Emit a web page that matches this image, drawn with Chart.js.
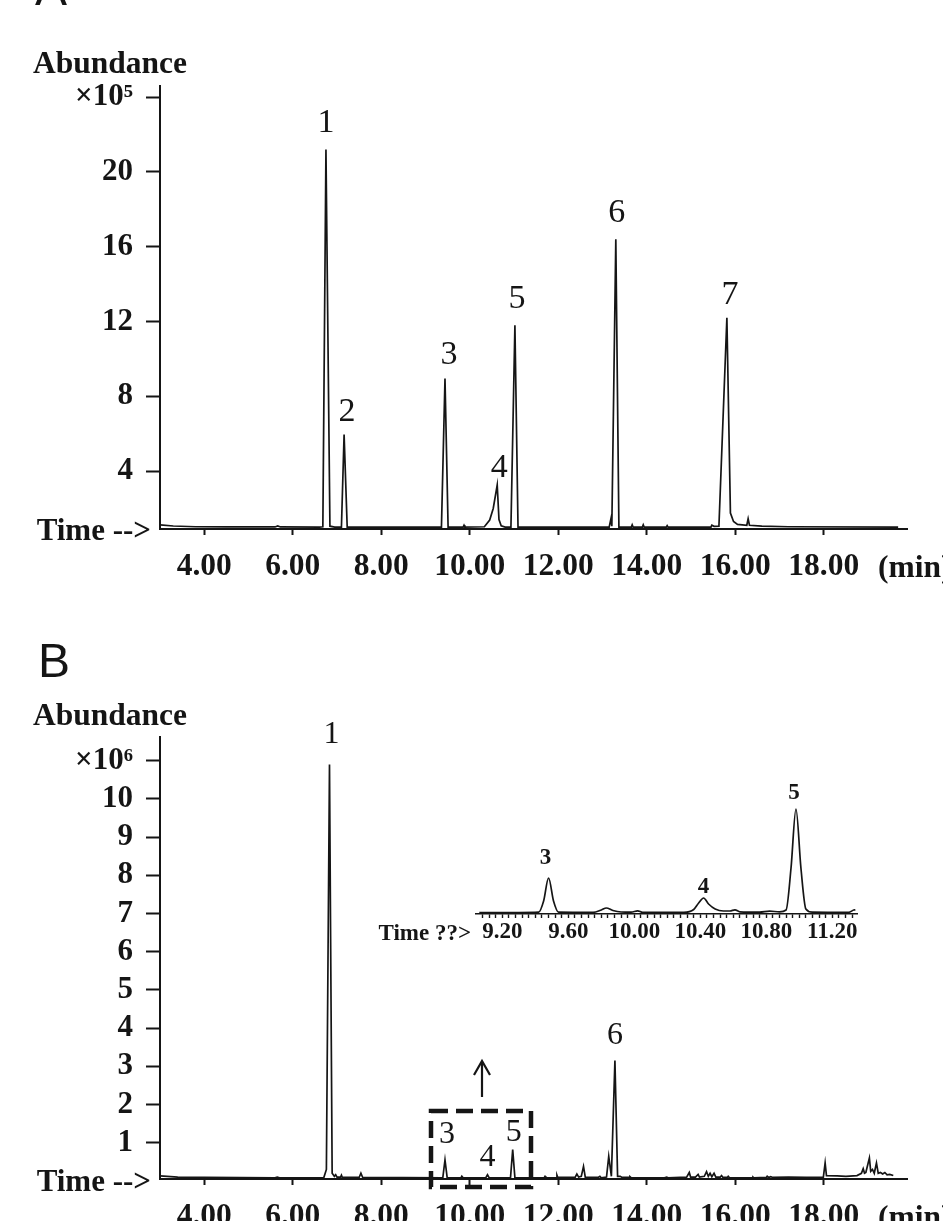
<!DOCTYPE html>
<html>
<head>
<meta charset="utf-8">
<title>GC-MS chromatograms</title>
<script src="https://cdn.jsdelivr.net/npm/chart.js@4.4.1/dist/chart.umd.min.js"></script>
<style>
  html, body { margin: 0; padding: 0; background: #fff; }
  #wrap { position: relative; width: 943px; height: 1221px; overflow: hidden; background: #fff; }
  canvas { position: absolute; }
</style>
</head>
<body>
<div id="wrap">
  <canvas id="chartA" width="943" height="610" style="left:0;top:0;width:943px;height:610px"></canvas>
  <canvas id="chartB" width="943" height="611" style="left:0;top:610px;width:943px;height:611px"></canvas>
  <canvas id="chartInset" width="520" height="180" style="left:370px;top:770px;width:520px;height:180px"></canvas>
</div>
<script>
// Shared time axis (min)
const timeTickValues = [4, 6, 8, 10, 12, 14, 16, 18];
const timeTickLabels = ['4.00', '6.00', '8.00', '10.00', '12.00', '14.00', '16.00', '18.00'];

// Panel A trace (abundance x10^5)
const timeA = [3.00, 3.30, 3.80, 4.50, 5.60, 5.66, 5.72, 6.60, 6.68, 6.75, 6.84, 6.95,
  7.10, 7.16, 7.23, 9.36, 9.44, 9.51, 9.85, 9.87, 9.89, 10.33, 10.45, 10.53, 10.62, 10.66,
  10.71, 10.80, 10.93, 11.02, 11.09, 13.15, 13.19, 13.21, 13.30, 13.37, 13.65, 13.67, 13.69,
  13.90, 13.92, 13.94, 14.44, 14.46, 14.48, 15.45, 15.47, 15.52, 15.63, 15.81, 15.89, 15.96,
  16.05, 16.26, 16.29, 16.32, 16.60, 17.20, 19.68];
const abundA = [1.12, 1.06, 1.02, 1.01, 1.01, 1.06, 1.01, 1.00, 1.02, 21.2, 1.05, 1.00,
  1.00, 5.95, 1.00, 1.00, 8.95, 1.00, 1.00, 1.10, 1.00, 1.02, 1.38, 2.00, 3.25, 1.40,
  1.07, 1.00, 1.00, 11.8, 1.00, 1.00, 1.45, 1.05, 16.4, 1.00, 1.00, 1.12, 1.00,
  1.00, 1.12, 1.00, 1.00, 1.08, 1.00, 1.00, 1.10, 1.04, 1.05, 12.2, 1.75, 1.30,
  1.15, 1.10, 1.45, 1.10, 1.05, 1.02, 1.00];
const yTickValuesA = [4, 8, 12, 16, 20, 24];
const yTickLabelsA = ['4', '8', '12', '16', '20', '×10⁵'];
const peakIdsA = ['1', '2', '3', '4', '5', '6', '7'];
const peakTimesA = [6.75, 7.16, 9.44, 10.62, 11.02, 13.30, 15.81];
const peakTopsA = [21.2, 5.95, 8.95, 3.25, 11.8, 16.4, 12.2];

// Panel B trace (abundance x10^6)
const timeB = [3.00, 3.40, 4.00, 5.60, 5.65, 5.70, 6.70, 6.76, 6.83, 6.89, 6.94, 6.97,
  7.00, 7.08, 7.10, 7.12, 7.50, 7.54, 7.58, 9.39, 9.44, 9.49, 9.80, 9.82, 9.85, 10.36,
  10.40, 10.44, 10.92, 10.97, 11.02, 11.68, 11.70, 11.72, 11.95, 11.97, 11.99, 12.38, 12.42,
  12.46, 12.52, 12.57, 12.61, 12.90, 12.94, 12.97, 13.09, 13.14, 13.20, 13.28, 13.34, 13.40,
  13.44, 13.60, 13.62, 13.65, 14.40, 14.45, 14.48, 14.90, 14.96, 14.99, 15.10, 15.16, 15.19,
  15.30, 15.35, 15.39, 15.43, 15.47, 15.52, 15.56, 15.66, 15.69, 15.72, 15.82, 15.84, 15.87,
  16.38, 16.40, 16.42, 16.70, 16.72, 16.75, 16.80, 16.85, 17.20, 17.60, 17.99, 18.03, 18.06,
  18.30, 18.50, 18.75, 18.85, 18.89, 18.92, 18.95, 19.03, 19.06, 19.10, 19.14, 19.19, 19.23,
  19.28, 19.33, 19.38, 19.43, 19.49, 19.57];
const abundB = [0.13, 0.10, 0.09, 0.08, 0.10, 0.08, 0.08, 0.30, 10.9, 0.20, 0.12, 0.16,
  0.10, 0.10, 0.15, 0.09, 0.09, 0.20, 0.09, 0.08, 0.55, 0.08, 0.08, 0.12, 0.08, 0.08,
  0.16, 0.08, 0.08, 0.82, 0.08, 0.08, 0.12, 0.08, 0.08, 0.15, 0.09, 0.09, 0.18,
  0.10, 0.12, 0.38, 0.10, 0.09, 0.12, 0.08, 0.10, 0.64, 0.12, 3.15, 0.12, 0.12,
  0.09, 0.09, 0.11, 0.08, 0.08, 0.10, 0.08, 0.10, 0.22, 0.10, 0.10, 0.17, 0.10,
  0.12, 0.24, 0.12, 0.20, 0.11, 0.20, 0.10, 0.10, 0.14, 0.09, 0.09, 0.12, 0.08,
  0.08, 0.10, 0.08, 0.09, 0.12, 0.09, 0.11, 0.09, 0.10, 0.09, 0.10, 0.47, 0.14,
  0.13, 0.12, 0.14, 0.20, 0.32, 0.20, 0.22, 0.60, 0.25, 0.30, 0.20, 0.47, 0.20,
  0.22, 0.18, 0.22, 0.16, 0.17, 0.14];
const yTickValuesB = [1, 2, 3, 4, 5, 6, 7, 8, 9, 10, 11];
const yTickLabelsB = ['1', '2', '3', '4', '5', '6', '7', '8', '9', '10', '×10⁶'];
const peakIdsB = ['1', '3', '4', '5', '6'];
const peakTimesB = [6.83, 9.44, 10.40, 10.97, 13.28];
const peakTopsB = [10.9, 0.55, 0.16, 0.82, 3.15];

// Inset of panel B, 9.0 - 11.4 min (relative abundance)
const timeInset = [9.06, 9.30, 9.42, 9.45, 9.48, 9.51, 9.54, 9.75, 9.80, 9.83, 9.87, 9.92,
  9.98, 10.02, 10.05, 10.30, 10.36, 10.39, 10.42, 10.45, 10.49, 10.54, 10.58, 10.61, 10.64,
  10.76, 10.82, 10.88, 10.92, 10.95, 10.98, 11.01, 11.04, 11.08, 11.30, 11.33, 11.34];
const abundInset = [0.05, 0.05, 0.08, 1.2, 3.5, 1.2, 0.08, 0.06, 0.30, 0.50, 0.25, 0.10,
  0.08, 0.22, 0.06, 0.06, 0.35, 1.00, 1.50, 0.90, 0.40, 0.20, 0.20, 0.32, 0.12,
  0.08, 0.18, 0.12, 0.30, 4.5, 10.4, 4.5, 0.40, 0.08, 0.06, 0.30, 0.32];
const insetTickLabels = ['9.20', '9.60', '10.00', '10.40', '10.80', '11.20'];
const insetMajorTicks = [9.20, 9.60, 10.00, 10.40, 10.80, 11.20];
const peakIdsInset = ['3', '4', '5'];
const peakTimesInset = [9.48, 10.42, 10.98];
const peakTopsInset = [3.5, 1.5, 10.4];

const ink = '#151515';
const serif = '"Liberation Serif", "Times New Roman", serif';
const sans = '"Liberation Sans", Arial, sans-serif';

function toPoints(xs, ys) {
    return xs.map((x, i) => ({ x: x, y: ys[i] }));
}

// Draws panel letters, axis captions, peak numbers, the dashed box and the arrow
const overlayPlugin = {
    id: 'overlay',
    afterDraw(chart, args, opts) {
        const ctx = chart.ctx;
        const xs = chart.scales.x;
        const ys = chart.scales.y;
        ctx.save();
        ctx.fillStyle = ink;
        ctx.strokeStyle = ink;
        (opts.texts || []).forEach(t => {
            ctx.font = t.font;
            ctx.textAlign = t.align || 'left';
            ctx.textBaseline = 'alphabetic';
            ctx.fillText(t.text, t.x, t.y);
        });
        if (opts.peaks) {
            const p = opts.peaks;
            ctx.font = p.font;
            ctx.textAlign = 'center';
            ctx.textBaseline = 'middle';
            p.ids.forEach((id, i) => {
                const px = xs.getPixelForValue(p.times[i]) + (p.dx ? p.dx[i] : 0);
                const py = ys.getPixelForValue(p.tops[i]) - p.lift[i];
                ctx.fillText(id, px, py);
            });
        }
        if (opts.box) {
            const b = opts.box;
            ctx.lineWidth = 4.5;
            ctx.setLineDash([17, 8]);
            ctx.strokeRect(b.x, b.y, b.w, b.h);
            ctx.setLineDash([]);
        }
        if (opts.arrow) {
            const a = opts.arrow;
            ctx.lineWidth = 2.2;
            ctx.beginPath();
            ctx.moveTo(a.x, a.y1);
            ctx.lineTo(a.x, a.y0 + 2);
            ctx.stroke();
            ctx.beginPath();
            ctx.moveTo(a.x - 8, a.y0 + 14);
            ctx.lineTo(a.x, a.y0);
            ctx.lineTo(a.x + 8, a.y0 + 14);
            ctx.stroke();
        }
        ctx.restore();
    }
};

function axisStyle(tickLen, lineW) {
    return {
        grid: { drawOnChartArea: false, drawTicks: true, tickLength: tickLen, tickWidth: lineW, tickColor: ink, color: ink },
        border: { display: true, color: ink, width: lineW }
    };
}

function chromatogram(canvasId, cfg) {
    const ctx = document.getElementById(canvasId).getContext('2d');
    return new Chart(ctx, {
        type: 'line',
        data: {
            datasets: [{
                data: toPoints(cfg.times, cfg.values),
                borderColor: ink,
                borderWidth: 1.7,
                pointRadius: 0,
                tension: 0,
                fill: false
            }]
        },
        options: {
            responsive: false,
            animation: false,
            layout: { padding: cfg.padding },
            plugins: {
                legend: { display: false },
                tooltip: { enabled: false },
                overlay: cfg.overlay
            },
            scales: {
                x: Object.assign({
                    type: 'linear',
                    min: 3.0,
                    max: 19.88,
                    afterFit: s => { s.height = cfg.xHeight; },
                    afterBuildTicks: s => { s.ticks = timeTickValues.map(v => ({ value: v })); },
                    ticks: {
                        autoSkip: false,
                        maxRotation: 0,
                        padding: 13,
                        color: ink,
                        font: { family: serif, weight: 'bold', size: 31.5 },
                        callback: (v, i) => timeTickLabels[i]
                    }
                }, axisStyle(6, 2)),
                y: Object.assign({
                    min: cfg.yMin,
                    max: cfg.yMax,
                    afterFit: s => { s.width = 160; },
                    afterBuildTicks: s => { s.ticks = cfg.yTicks.map(v => ({ value: v })); },
                    ticks: {
                        autoSkip: false,
                        padding: 13,
                        color: ink,
                        font: { family: serif, weight: 'bold', size: 31 },
                        callback: (v, i) => cfg.yLabels[i]
                    }
                }, axisStyle(14, 2))
            }
        },
        plugins: [overlayPlugin]
    });
}

// Panel A
chromatogram('chartA', {
    times: timeA, values: abundA,
    yMin: 0.9, yMax: 24.6, yTicks: yTickValuesA, yLabels: yTickLabelsA,
    padding: { top: 86, right: 36, left: 0, bottom: 0 },
    xHeight: 81,
    overlay: {
        texts: [
            { text: 'A', x: 35, y: 5, font: '48px ' + sans },
            { text: 'Abundance', x: 33, y: 73, font: 'bold 31.5px ' + serif },
            { text: 'Time -->', x: 151, y: 540, align: 'right', font: 'bold 31px ' + serif },
            { text: '(min)', x: 878, y: 577, font: 'bold 31.5px ' + serif }
        ],
        peaks: {
            ids: peakIdsA, times: peakTimesA, tops: peakTopsA,
            lift: [26, 23, 23, 17, 26, 26, 23],
            dx: [0, 3, 4, 2, 2, 1, 3],
            font: '34px ' + serif
        }
    }
});

// Panel B
chromatogram('chartB', {
    times: timeB, values: abundB,
    yMin: 0.05, yMax: 11.62, yTicks: yTickValuesB, yLabels: yTickLabelsB,
    padding: { top: 127, right: 36, left: 0, bottom: 0 },
    xHeight: 42,
    overlay: {
        texts: [
            { text: 'B', x: 38, y: 67, font: '48px ' + sans },
            { text: 'Abundance', x: 33, y: 115, font: 'bold 31.5px ' + serif },
            { text: 'Time -->', x: 151, y: 581, align: 'right', font: 'bold 31px ' + serif },
            { text: '(min)', x: 878, y: 617, font: 'bold 31.5px ' + serif }
        ],
        peaks: {
            ids: peakIdsB, times: peakTimesB, tops: peakTopsB,
            lift: [30, 25, 17, 17, 25],
            dx: [2, 2, 0, 1, 0],
            font: '32px ' + serif
        },
        box: { x: 431, y: 501, w: 100, h: 76 },
        arrow: { x: 482, y0: 451, y1: 487 }
    }
});

// Inset (zoom of the dashed box)
(function () {
    const minorTicks = [];
    for (let k = 0; k <= 56; k++) {
        minorTicks.push(Math.round((9.08 + k * 0.04) * 100) / 100);
    }
    const ctx = document.getElementById('chartInset').getContext('2d');
    new Chart(ctx, {
        type: 'line',
        data: {
            datasets: [{
                data: toPoints(timeInset, abundInset),
                borderColor: ink,
                borderWidth: 1.7,
                pointRadius: 0,
                cubicInterpolationMode: 'monotone',
                fill: false
            }]
        },
        options: {
            responsive: false,
            animation: false,
            layout: { padding: { top: 30, left: 106, right: 33, bottom: 0 } },
            plugins: {
                legend: { display: false },
                tooltip: { enabled: false },
                overlay: {
                    texts: [
                        { text: 'Time ??>', x: 101, y: 170, align: 'right', font: 'bold 23px ' + serif }
                    ],
                    peaks: {
                        ids: peakIdsInset, times: peakTimesInset, tops: peakTopsInset,
                        lift: [20, 11, 16],
                        dx: [-3, 0, -2],
                        font: 'bold 23px ' + serif
                    }
                }
            },
            scales: {
                x: Object.assign({
                    type: 'linear',
                    min: 9.04,
                    max: 11.35,
                    afterFit: s => { s.height = 36; },
                    afterBuildTicks: s => { s.ticks = minorTicks.map(v => ({ value: v })); },
                    ticks: {
                        autoSkip: false,
                        maxRotation: 0,
                        padding: 0,
                        color: ink,
                        font: { family: serif, weight: 'bold', size: 23 },
                        callback: v => {
                            const i = insetMajorTicks.findIndex(m => Math.abs(m - v) < 0.001);
                            return i >= 0 ? insetTickLabels[i] : '';
                        }
                    }
                }, axisStyle(4, 1.4)),
                y: { display: false, min: -0.1, max: 11.3 }
            }
        },
        plugins: [overlayPlugin]
    });
})();
</script>
</body>
</html>
